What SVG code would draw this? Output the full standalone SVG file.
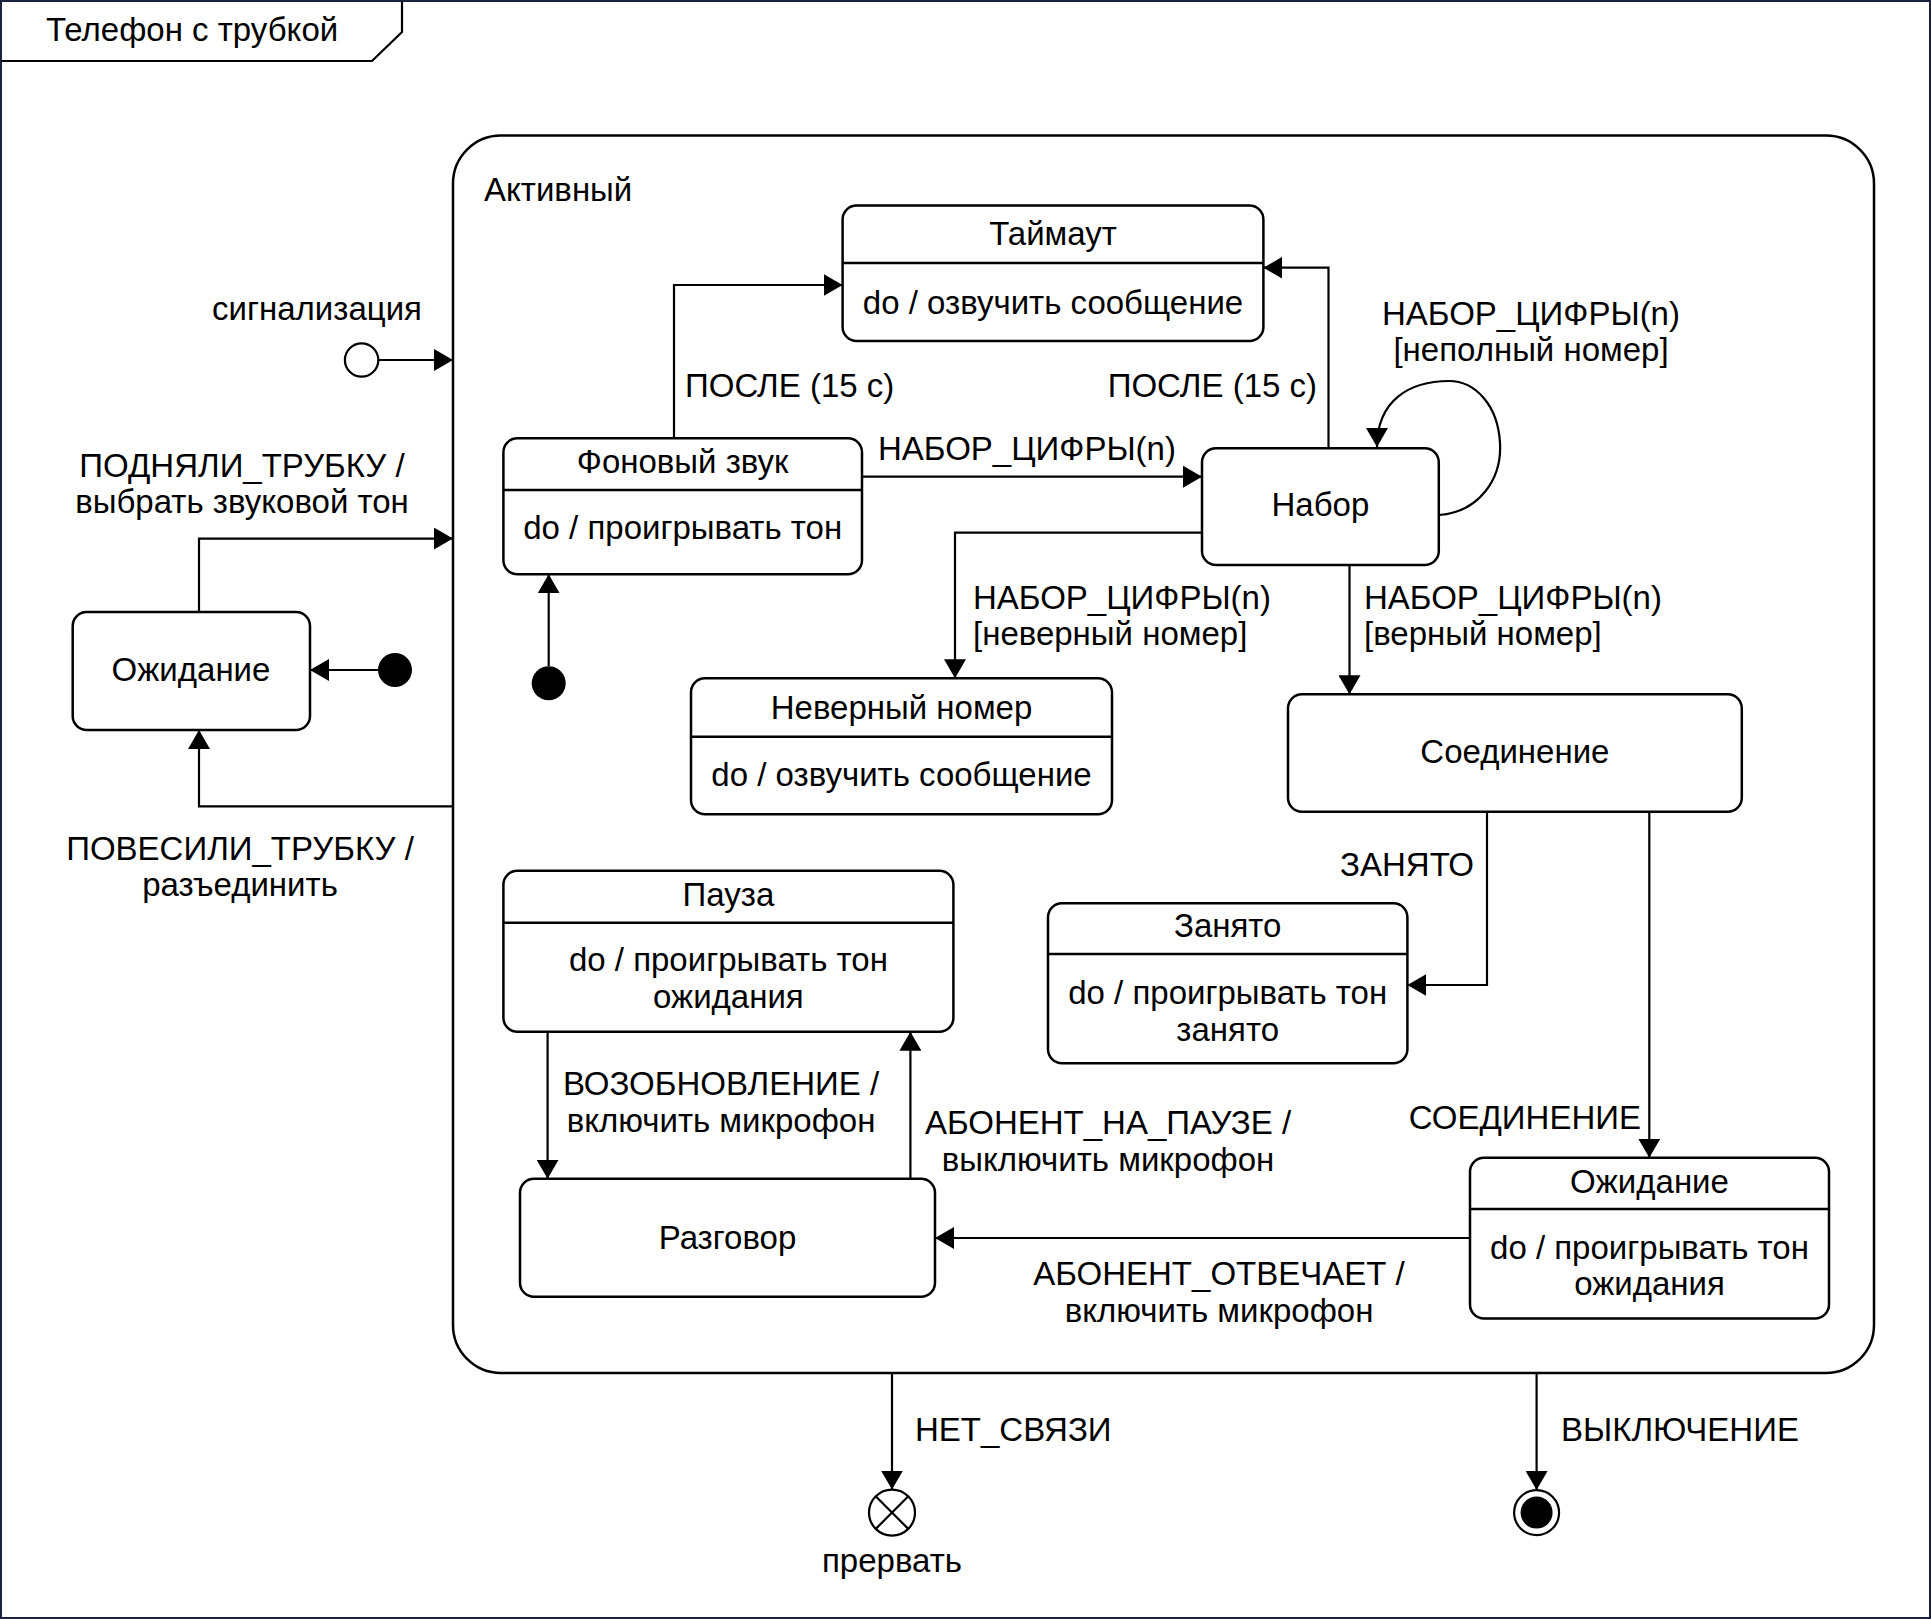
<svg xmlns="http://www.w3.org/2000/svg" width="1931" height="1619" viewBox="0 0 1931 1619">
<defs>
<marker id="a" markerUnits="userSpaceOnUse" markerWidth="20" markerHeight="22" refX="19" refY="11" orient="auto">
<path d="M0,0 L19,11 L0,22 Z" fill="#000"/>
</marker>
<style>
.n{fill:#fff;stroke:#000;stroke-width:2.5}
.d{stroke:#000;stroke-width:2.5}
.e{fill:none;stroke:#000;stroke-width:2.2;marker-end:url(#a)}
text{font-family:"Liberation Sans",Arial,sans-serif;font-size:33px;fill:#000}
.m{text-anchor:middle}
.r{text-anchor:end}
</style>
</defs>
<rect x="0" y="0" width="1931" height="1619" fill="#fff"/>
<g id="frame">
<rect x="1" y="1" width="1929" height="1617" fill="none" stroke="#1a2340" stroke-width="2"/>
<path d="M1,61 L372,61 L402,32 L402,1" fill="none" stroke="#000" stroke-width="2.2"/>
<text x="46" y="41">Телефон с трубкой</text>
</g>
<g id="active">
<rect class="n" x="453" y="135.5" width="1421" height="1237.5" rx="48"/>
<text x="484" y="201">Активный</text>
</g>
<g id="entry">
<circle cx="361.6" cy="360" r="16.7" fill="#fff" stroke="#000" stroke-width="2.2"/>
<text class="m" x="317" y="320">сигнализация</text>
</g>
<g id="init1"><circle cx="395" cy="670" r="17" fill="#000"/></g>
<g id="init2"><circle cx="548.7" cy="683.3" r="17" fill="#000"/></g>
<g id="idle">
<rect class="n" x="72.7" y="612" width="237.3" height="118" rx="14"/>
<text class="m" x="191" y="681">Ожидание</text>
</g>
<g id="timeout">
<rect class="n" x="842.6" y="205.5" width="420.8" height="135.5" rx="14"/>
<line class="d" x1="842.6" y1="263" x2="1263.4" y2="263"/>
<text class="m" x="1053" y="245">Таймаут</text>
<text class="m" x="1053" y="314">do / озвучить сообщение</text>
</g>
<g id="dialtone">
<rect class="n" x="503.4" y="438.3" width="358.6" height="136" rx="14"/>
<line class="d" x1="503.4" y1="490" x2="862" y2="490"/>
<text class="m" x="682.7" y="472.5">Фоновый звук</text>
<text class="m" x="682.7" y="539">do / проигрывать тон</text>
</g>
<g id="dialing">
<rect class="n" x="1202" y="448.3" width="236.8" height="116.7" rx="14"/>
<text class="m" x="1320.4" y="516">Набор</text>
</g>
<g id="invalid">
<rect class="n" x="691" y="678.3" width="421" height="136" rx="14"/>
<line class="d" x1="691" y1="736.7" x2="1112" y2="736.7"/>
<text class="m" x="901.5" y="719">Неверный номер</text>
<text class="m" x="901.5" y="786">do / озвучить сообщение</text>
</g>
<g id="connecting">
<rect class="n" x="1288" y="694.3" width="453.8" height="117.4" rx="14"/>
<text class="m" x="1514.9" y="763">Соединение</text>
</g>
<g id="pause">
<rect class="n" x="503.4" y="870.7" width="450" height="161" rx="14"/>
<line class="d" x1="503.4" y1="922.7" x2="953.4" y2="922.7"/>
<text class="m" x="728.4" y="906">Пауза</text>
<text class="m" x="728.4" y="971">do / проигрывать тон</text>
<text class="m" x="728.4" y="1008">ожидания</text>
</g>
<g id="busy">
<rect class="n" x="1048" y="903.3" width="359.4" height="160" rx="14"/>
<line class="d" x1="1048" y1="954" x2="1407.4" y2="954"/>
<text class="m" x="1227.7" y="937">Занято</text>
<text class="m" x="1227.7" y="1004">do / проигрывать тон</text>
<text class="m" x="1227.7" y="1041">занято</text>
</g>
<g id="talking">
<rect class="n" x="520" y="1178.8" width="415" height="118" rx="14"/>
<text class="m" x="727.5" y="1248.5">Разговор</text>
</g>
<g id="ringing">
<rect class="n" x="1470" y="1157.8" width="359" height="160.7" rx="14"/>
<line class="d" x1="1470" y1="1209" x2="1829" y2="1209"/>
<text class="m" x="1649.5" y="1192.5">Ожидание</text>
<text class="m" x="1649.5" y="1259">do / проигрывать тон</text>
<text class="m" x="1649.5" y="1295">ожидания</text>
</g>
<g id="terminate">
<circle cx="892" cy="1512.6" r="23" fill="#fff" stroke="#000" stroke-width="2.2"/>
<path d="M875.7,1496.3 L908.3,1528.9 M908.3,1496.3 L875.7,1528.9" stroke="#000" stroke-width="2.2"/>
<text class="m" x="892" y="1572">прервать</text>
</g>
<g id="final">
<circle cx="1536.6" cy="1512.6" r="22.5" fill="#fff" stroke="#000" stroke-width="2.2"/>
<circle cx="1536.6" cy="1512.6" r="16" fill="#000"/>
</g>
<g id="connectors">
<path class="e" d="M378.3,360 H453"/>
<path class="e" d="M199,612 V538.6 H453"/>
<path class="e" d="M453,806.3 H199 V730"/>
<path class="e" d="M378,670 H310"/>
<path class="e" d="M548.7,666 V574.3"/>
<path class="e" d="M674,438.3 V285 H842.6"/>
<path class="e" d="M1328.5,448.3 V267.7 H1263.4"/>
<path class="e" d="M862,476.7 H1202"/>
<path class="e" d="M1202,532.7 H955 V678.3"/>
<path class="e" d="M1349.5,565 V694.3"/>
<path class="e" d="M1438.8,515 C1480,512 1502,478 1500,443 C1498,405 1475,381 1449,381 C1410,381 1377,400 1377,447"/>
<path class="e" d="M1487,811.7 V985 H1407.4"/>
<path class="e" d="M1649.3,811.7 V1157.8"/>
<path class="e" d="M1470,1238 H935"/>
<path class="e" d="M547.6,1031.7 V1178.8"/>
<path class="e" d="M910.4,1178.8 V1031.7"/>
<path class="e" d="M892,1373 V1489.6"/>
<path class="e" d="M1536.6,1373 V1490"/>
<text class="m" x="242" y="476.5">ПОДНЯЛИ_ТРУБКУ /</text>
<text class="m" x="242" y="512.5">выбрать звуковой тон</text>
<text class="m" x="240" y="860">ПОВЕСИЛИ_ТРУБКУ /</text>
<text class="m" x="240" y="896">разъединить</text>
<text x="685" y="397">ПОСЛЕ (15 с)</text>
<text class="r" x="1317" y="397">ПОСЛЕ (15 с)</text>
<text x="878" y="460">НАБОР_ЦИФРЫ(n)</text>
<text class="m" x="1531" y="325">НАБОР_ЦИФРЫ(n)</text>
<text class="m" x="1531" y="361">[неполный номер]</text>
<text x="973" y="608.5">НАБОР_ЦИФРЫ(n)</text>
<text x="973" y="645">[неверный номер]</text>
<text x="1364" y="608.5">НАБОР_ЦИФРЫ(n)</text>
<text x="1364" y="645">[верный номер]</text>
<text class="r" x="1474" y="876">ЗАНЯТО</text>
<text class="r" x="1641" y="1129">СОЕДИНЕНИЕ</text>
<text class="m" x="721" y="1095">ВОЗОБНОВЛЕНИЕ /</text>
<text class="m" x="721" y="1132">включить микрофон</text>
<text class="m" x="1108" y="1134">АБОНЕНТ_НА_ПАУЗЕ /</text>
<text class="m" x="1108" y="1171">выключить микрофон</text>
<text class="m" x="1219" y="1285">АБОНЕНТ_ОТВЕЧАЕТ /</text>
<text class="m" x="1219" y="1322">включить микрофон</text>
<text x="915" y="1441">НЕТ_СВЯЗИ</text>
<text x="1561" y="1441">ВЫКЛЮЧЕНИЕ</text>
</g>
</svg>
